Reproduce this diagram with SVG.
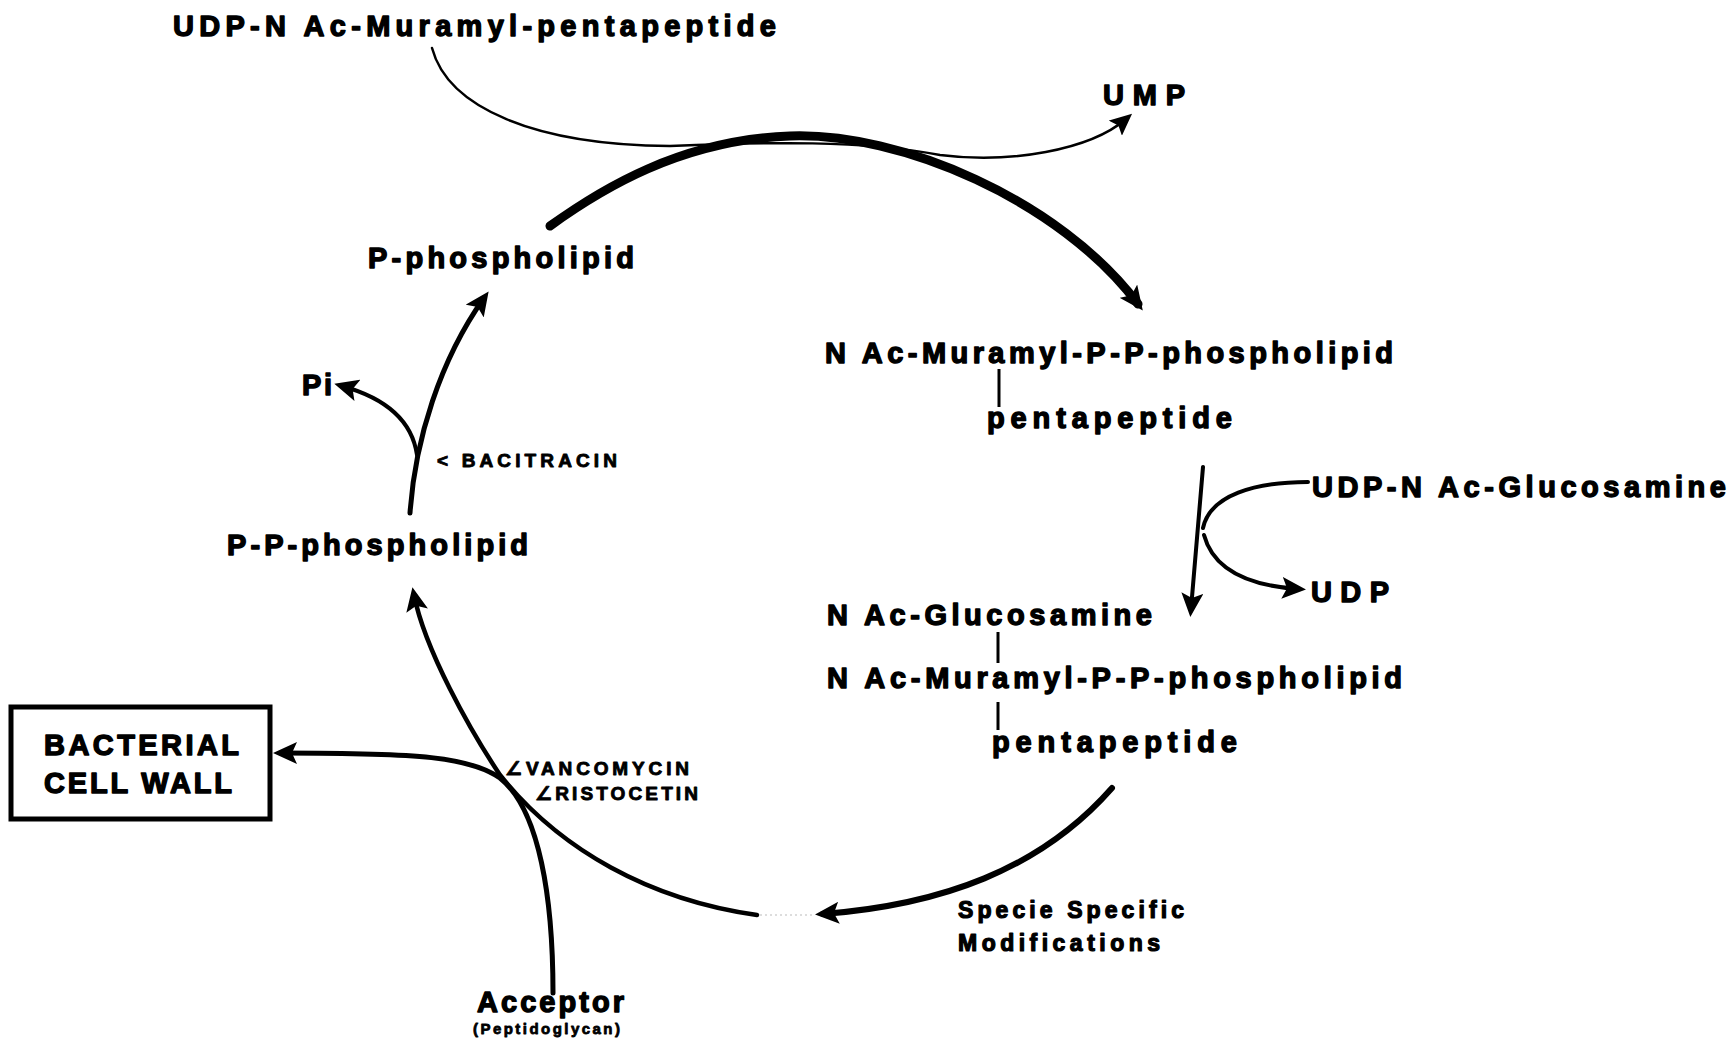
<svg xmlns="http://www.w3.org/2000/svg" width="1732" height="1041" viewBox="0 0 1732 1041">
<style>
text{font-family:"Liberation Sans","DejaVu Sans",sans-serif;font-weight:bold;fill:#000;stroke:#000;stroke-linejoin:round}
.l{font-size:29px;stroke-width:1.4}
.m{font-size:23px;stroke-width:1.2}
.s{font-size:19px;stroke-width:0.9}
.xs{font-size:15px;stroke-width:0.8}
.c{fill:none;stroke:#000;stroke-linecap:round}
.tick{stroke:#000;stroke-width:3}
</style>
<defs>
<marker id="ah" markerWidth="26" markerHeight="22" refX="16" refY="11" orient="auto" markerUnits="userSpaceOnUse"><path d="M0,0 L24,11 L0,22 L5,11 z" fill="#000"/></marker>
<marker id="ahs" markerWidth="24" markerHeight="20" refX="14" refY="10" orient="auto" markerUnits="userSpaceOnUse"><path d="M0,0 L22,10 L0,20 L4,10 z" fill="#000"/></marker>
</defs>
<rect width="1732" height="1041" fill="#fff"/>
<g id="connectors">
<path class="c" stroke-width="2.5" marker-end="url(#ahs)" d="M432,48 C 448,108 535,145 670,146 C 770,142 860,140 940,155 C 1010,164 1090,150 1126,119"/>
<path class="c" stroke-width="9" marker-end="url(#ah)" d="M550,226 C 600,190 680,140 790,136 C 900,132 1060,200 1138,304"/>
<path class="c" stroke-width="4" marker-end="url(#ah)" d="M1203,467 L1191,609"/>
<path class="c" stroke-width="4" d="M1308,482 C 1255,482 1210,495 1203,528"/>
<path class="c" stroke-width="4" marker-end="url(#ah)" d="M1204,535 C 1212,565 1240,585 1298,589"/>
<path class="c" stroke-width="6" marker-end="url(#ah)" d="M1112,788 C 1040,870 940,905 823,914"/>
<path fill="none" stroke="#bbb" stroke-width="1" stroke-dasharray="2,3" d="M760,915 L812,915"/>
<path class="c" stroke-width="4.5" marker-end="url(#ah)" d="M757,915 C 650,900 560,850 500,775 C 470,730 425,650 414,595"/>
<path class="c" stroke-width="5" marker-end="url(#ah)" d="M553,993 C 553,900 540,810 500,778 C 470,757 420,753 281,753"/>
<path class="c" stroke-width="5" marker-end="url(#ah)" d="M410,513 C 415,440 440,360 484,298"/>
<path class="c" stroke-width="4" marker-end="url(#ah)" d="M417,455 C 412,420 385,398 342,386"/>
</g>
<g id="udp-muramyl"><text class="l" x="173" y="36" textLength="603" lengthAdjust="spacing">UDP-N Ac-Muramyl-pentapeptide</text></g>
<g id="ump"><text class="l" x="1103" y="105" textLength="82" lengthAdjust="spacing">UMP</text></g>
<g id="p-phospholipid"><text class="l" x="368" y="268" textLength="266" lengthAdjust="spacing">P-phospholipid</text></g>
<g id="muramyl-pp-1">
<text class="l" x="825" y="363" textLength="568" lengthAdjust="spacing">N Ac-Muramyl-P-P-phospholipid</text>
<line class="tick" x1="999" y1="369" x2="999" y2="407"/>
<text class="l" x="987" y="428" textLength="245" lengthAdjust="spacing">pentapeptide</text>
</g>
<g id="udp-glucosamine"><text class="l" x="1312" y="497" textLength="414" lengthAdjust="spacing">UDP-N Ac-Glucosamine</text></g>
<g id="udp"><text class="l" x="1311" y="602" textLength="78" lengthAdjust="spacing">UDP</text></g>
<g id="glucosamine-muramyl">
<text class="l" x="827" y="625" textLength="325" lengthAdjust="spacing">N Ac-Glucosamine</text>
<line class="tick" x1="998" y1="632" x2="998" y2="663"/>
<text class="l" x="827" y="688" textLength="575" lengthAdjust="spacing">N Ac-Muramyl-P-P-phospholipid</text>
<line class="tick" x1="998" y1="702" x2="998" y2="730"/>
<text class="l" x="992" y="752" textLength="245" lengthAdjust="spacing">pentapeptide</text>
</g>
<g id="specie"><text class="m" x="958" y="918" textLength="226" lengthAdjust="spacing">Specie Specific</text><text class="m" x="958" y="951" textLength="202" lengthAdjust="spacing">Modifications</text></g>
<g id="acceptor"><text class="l" font-size="27" x="477" y="1012" textLength="147" lengthAdjust="spacing">Acceptor</text><text class="xs" x="473" y="1034" textLength="147" lengthAdjust="spacing">(Peptidoglycan)</text></g>
<g id="cell-wall">
<rect x="11" y="707" width="259" height="112" fill="none" stroke="#000" stroke-width="5"/>
<text class="l" x="44" y="755" textLength="195" lengthAdjust="spacing">BACTERIAL</text>
<text class="l" x="44" y="793" textLength="188" lengthAdjust="spacing">CELL WALL</text>
</g>
<g id="vancomycin"><text class="s" x="505" y="775" textLength="184" lengthAdjust="spacing">∠VANCOMYCIN</text><text class="s" x="535" y="800" textLength="163" lengthAdjust="spacing">∠RISTOCETIN</text></g>
<g id="pi"><text class="l" x="302" y="395" textLength="30" lengthAdjust="spacing">Pi</text></g>
<g id="bacitracin"><text class="s" x="437" y="467" textLength="180" lengthAdjust="spacing">&lt; BACITRACIN</text></g>
<g id="pp-phospholipid"><text class="l" x="227" y="555" textLength="301" lengthAdjust="spacing">P-P-phospholipid</text></g>
</svg>
